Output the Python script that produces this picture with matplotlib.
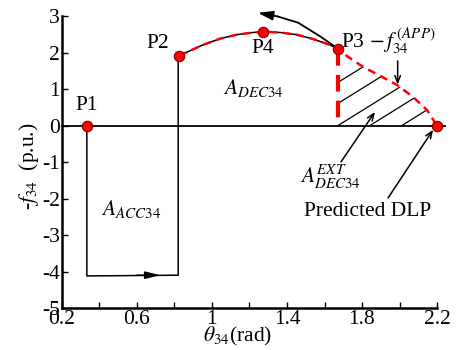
import numpy as np
import matplotlib
matplotlib.use("Agg")
import matplotlib.pyplot as plt
from matplotlib.patches import Polygon

plt.rcParams['font.family'] = ['Liberation Serif', 'DejaVu Serif']
plt.rcParams['mathtext.fontset'] = 'stix'

# ---- data ----
curve_theta = [0.824, 0.952, 1.043, 1.133, 1.219, 1.272, 1.363, 1.453, 1.539,
               1.629, 1.672, 1.720, 1.805, 1.896, 1.987, 2.072, 2.147, 2.200]
curve_f = [1.92, 2.22, 2.39, 2.50, 2.56, 2.58, 2.56, 2.50, 2.38,
           2.22, 2.11, 1.91, 1.62, 1.37, 1.12, 0.79, 0.43, 0.0]
p3_index = 10  # P3 position in the curve arrays

acc_theta = [0.333, 0.333, 0.82, 0.82]
acc_f = [0.0, -4.12, -4.10, 1.92]

point_names = ['P1', 'P2', 'P4', 'P3', 'DLP']
point_theta = [0.333, 0.824, 1.272, 1.672, 2.200]
point_f = [0.0, 1.92, 2.58, 2.11, 0.0]

back_theta = [1.672, 1.581, 1.459, 1.35, 1.245]
back_f = [2.11, 2.44, 2.83, 3.00, 3.10]

hatch_x0 = [1.30, 1.48, 1.67, 1.84, 2.01]   # x-intercepts of hatch lines
hatch_slope = 3.2

xticks = [0.2, 0.4, 0.6, 0.8, 1.0, 1.2, 1.4, 1.6, 1.8, 2.0, 2.2]
xticklabels = ['0.2', '', '0.6', '', '1', '', '1.4', '', '1.8', '', '2.2']
yticks = [-5, -4, -3, -2, -1, 0, 1, 2, 3]
yticklabels = ['-5', '-4', '-3', '-2', '-1', '0', '1', '2', '3']

fig = plt.figure(figsize=(4.62, 3.5), dpi=100)
ax = fig.add_axes([0.134, 0.12, 0.812, 0.833])
ax.set_xlim(0.2, 2.2)
ax.set_ylim(-5, 3)
for s in ['top', 'right']:
    ax.spines[s].set_visible(False)
for s in ['left', 'bottom']:
    ax.spines[s].set_linewidth(1.8)
ax.set_xticks(xticks)
ax.set_xticklabels(xticklabels)
ax.set_yticks(yticks)
ax.set_yticklabels(yticklabels)
ax.tick_params(direction='in', length=4, width=1, labelsize=15.5, pad=1.5)

# zero line
ax.plot([0.2, 2.24], [0, 0], color='black', lw=1.3, clip_on=False, zorder=2)

# acceleration path
ax.plot(acc_theta, acc_f, color='black', lw=1.1, zorder=3)
ax.annotate('', xy=(0.725, acc_f[2]), xytext=(0.60, acc_f[2]),
            arrowprops=dict(arrowstyle='-|>,head_length=0.9,head_width=0.22',
                            color='black', lw=1.1, shrinkA=0, shrinkB=0))

# true curve (black) P2->P3
ax.plot(curve_theta[:p3_index + 1], curve_f[:p3_index + 1], color='black', lw=1.1, zorder=3)
# backswing arrow from P3
ax.plot(back_theta[:-1], back_f[:-1], color='black', lw=1.3, zorder=3, clip_on=False)
ax.annotate('', xy=(back_theta[-1], back_f[-1]), xytext=(back_theta[-2], back_f[-2]),
            annotation_clip=False,
            arrowprops=dict(arrowstyle='-|>,head_length=0.9,head_width=0.28',
                            color='black', lw=1.3, shrinkA=0, shrinkB=0))

# red dashed approximated curve
ax.plot(curve_theta, curve_f, color='red', lw=1.8, ls=(0, (3.2, 2.2)), zorder=4)
# red thick dashed vertical at P3
ax.plot([curve_theta[p3_index], curve_theta[p3_index]], [curve_f[p3_index], 0],
        color='red', lw=3, ls=(0, (4, 2.2)), zorder=4)

# hatch region
ct = np.array(curve_theta[p3_index:])
cf = np.array(curve_f[p3_index:])
region = np.column_stack([np.r_[ct, ct[0]], np.r_[cf, 0.0]])
poly = Polygon(region, closed=True, facecolor='none', edgecolor='none')
ax.add_patch(poly)
for x0 in hatch_x0:
    xs = np.array([x0, x0 + 1.0])
    ln, = ax.plot(xs, hatch_slope * (xs - x0), color='black', lw=0.9, zorder=3)
    ln.set_clip_path(poly)

# points
ax.plot(point_theta, point_f, 'o', color='red', markeredgecolor='#800000',
        markersize=7.5, markeredgewidth=0.8, zorder=6, clip_on=False)

fs = 15.5
ax.text(0.333, 0.3, 'P1', fontsize=fs, ha='center', va='bottom')
ax.text(0.71, 2.26, 'P2', fontsize=fs, ha='center', va='center')
ax.text(1.272, 2.11, 'P4', fontsize=fs, ha='center', va='center')
ax.text(1.69, 2.33, r'P3 $-\,f_{34}^{\,(APP)}$', fontsize=fs, ha='left', va='center')
ax.annotate('', xy=(1.99, 1.13), xytext=(1.99, 1.78),
            arrowprops=dict(arrowstyle='->,head_length=0.5,head_width=0.2',
                            color='black', lw=1.1, shrinkA=0, shrinkB=0))
ax.text(1.06, 1.04, r'$A_{DEC34}$', fontsize=fs, ha='left', va='center')
ax.text(0.41, -2.27, r'$A_{ACC34}$', fontsize=fs, ha='left', va='center')
ax.text(1.47, -1.4, r'$A_{DEC34}^{EXT}$', fontsize=fs, ha='left', va='center')
ax.annotate('', xy=(1.869, 0.38), xytext=(1.688, -0.99),
            arrowprops=dict(arrowstyle='->,head_length=0.5,head_width=0.2',
                            color='black', lw=1.1, shrinkA=0, shrinkB=0))
ax.text(1.83, -2.35, 'Predicted DLP', fontsize=fs, ha='center', va='center')
ax.annotate('', xy=(2.179, -0.11), xytext=(1.939, -1.98),
            arrowprops=dict(arrowstyle='->,head_length=0.5,head_width=0.2',
                            color='black', lw=1.1, shrinkA=0, shrinkB=0))

fig.text(0.062, 0.525, r'-$f_{34}$  (p.u.)', fontsize=fs, rotation=90, ha='center', va='center')
fig.text(0.515, 0.038, r'$\theta_{34}$(rad)', fontsize=fs, ha='center', va='center')

fig.savefig('out.png', dpi=100)
